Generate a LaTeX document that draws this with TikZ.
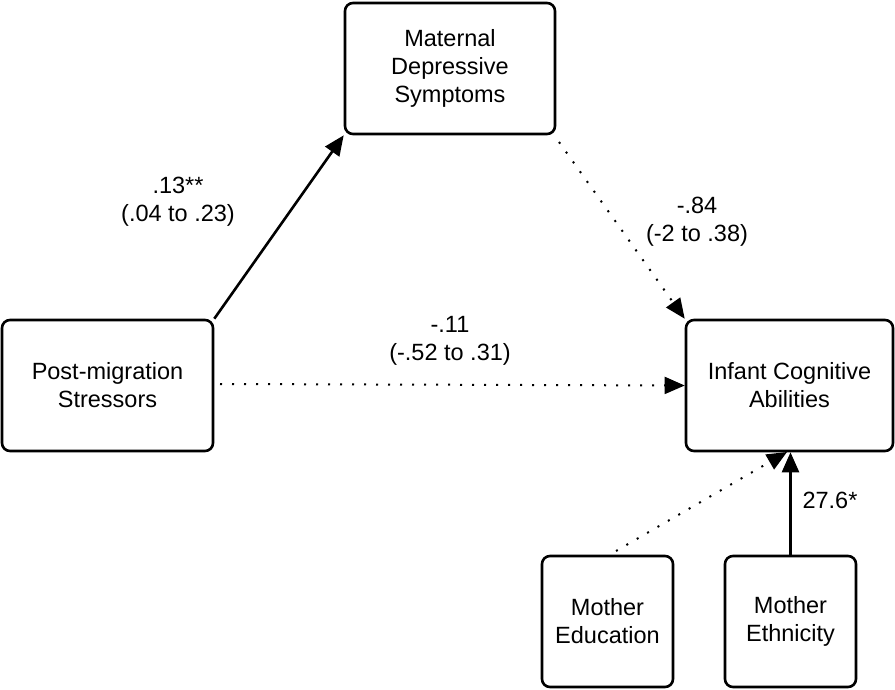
\documentclass[tikz,border=0pt]{standalone}
\usepackage{fontspec}
\setmainfont{Liberation Sans}
\usetikzlibrary{arrows.meta}
\begin{document}
\begin{tikzpicture}[x=1pt,y=-1pt,
  box/.style={draw,line width=2.6pt,rounded corners=8pt,align=center,inner sep=0pt,
    font=\fontsize{23.5}{28}\selectfont},
  lbl/.style={align=center,font=\fontsize{23.5}{28}\selectfont},
  solidarr/.style={line width=2.6pt,-{Triangle[length=20pt,width=17pt]}},
  dotarr/.style={line width=2pt,dash pattern=on 2pt off 10pt,-{Triangle[length=20pt,width=17pt]}}]
\useasboundingbox (0,0) rectangle (895,689);
\node[box,minimum width=210pt,minimum height=131pt] (mat) at (450,68.5) {Maternal\\Depressive\\Symptoms};
\node[box,minimum width=211pt,minimum height=131pt] (post) at (107.5,385.5) {Post-migration\\Stressors};
\node[box,minimum width=207pt,minimum height=131pt] (inf) at (789.5,385.5) {Infant Cognitive\\Abilities};
\node[box,minimum width=131pt,minimum height=131pt] (edu) at (607.5,621.5) {Mother\\Education};
\node[box,minimum width=131pt,minimum height=131pt] (eth) at (790.5,621.5) {Mother\\Ethnicity};
\coordinate (mdstart) at (559,142);
\coordinate (psstart) at (220,384);
\coordinate (edstart) at (616,551);
\coordinate (edend) at (787,452);
\draw[solidarr] (post.north east) -- (mat.south west);
\draw[dotarr] (mdstart) -- (inf.north west);
\draw[dotarr] (psstart) -- (inf.west);
\draw[dotarr] (edstart) -- (edend);
\draw[solidarr] (eth.north) -- (inf.south -| eth.north);
\node[lbl] at (178,202) {.13**\\(.04 to .23)};
\node[lbl] at (697,222) {-.84\\(-2 to .38)};
\node[lbl] at (450,341) {-.11\\(-.52 to .31)};
\node[lbl] at (830,500) {27.6*};
\end{tikzpicture}
\end{document}
